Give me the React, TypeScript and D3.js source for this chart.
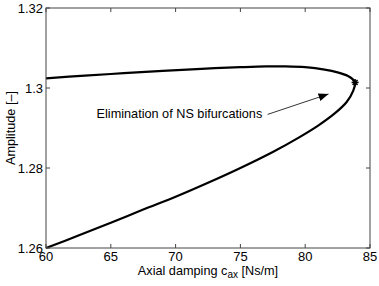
import React, { useEffect, useRef } from 'react';
import * as d3 from 'd3';

// upper branch, from left edge to the turning point
const upperC = [60, 63, 66, 69, 72, 75, 77, 78.5, 80, 81.5, 82.5, 83.3, 83.7, 83.85];
const upperA = [1.3024, 1.3031, 1.3037, 1.3043, 1.3048, 1.3052, 1.3054, 1.3054, 1.3052, 1.3046, 1.3039, 1.303, 1.3021, 1.3014];
// lower branch, from the turning point back to the left edge
const lowerC = [83.85, 83.7, 83.2, 82.3, 81, 79.5, 77.5, 75, 72.5, 70, 67.5, 65, 62.5, 60];
const lowerA = [1.3014, 1.2993, 1.2965, 1.2937, 1.2906, 1.2876, 1.284, 1.28, 1.2763, 1.2728, 1.2696, 1.2663, 1.2631, 1.26];

const xTicks = [60, 65, 70, 75, 80, 85];
const yTicks = [1.26, 1.28, 1.3, 1.32];
const yTickLabels = ['1.26', '1.28', '1.3', '1.32'];
const nsPoint = [83.85, 1.3014];

const W = 379;
const H = 286;
const margin = { left: 46, right: 9, top: 8, bottom: 38 };

const App = () => {
  const ref = useRef<SVGSVGElement>(null);

  useEffect(() => {
    const svg = d3.select(ref.current);
    svg.selectAll('*').remove();
    const font = 'Liberation Sans, Arial, Helvetica, sans-serif';

    const x = d3.scaleLinear().domain([60, 85]).range([margin.left, W - margin.right]);
    const y = d3.scaleLinear().domain([1.26, 1.32]).range([H - margin.bottom, margin.top]);
    const [x0, x1] = x.range();
    const [y0, y1] = y.range();

    const pts: [number, number][] = [];
    upperC.forEach((c, i) => pts.push([c, upperA[i]]));
    lowerC.slice(1).forEach((c, i) => pts.push([c, lowerA[i + 1]]));

    const line = d3
      .line<[number, number]>()
      .x(d => x(d[0]))
      .y(d => y(d[1]))
      .curve(d3.curveCatmullRom);

    // curve
    svg
      .append('path')
      .attr('d', line(pts))
      .attr('fill', 'none')
      .attr('stroke', '#000')
      .attr('stroke-width', 2.2);

    // box
    svg
      .append('rect')
      .attr('x', x0)
      .attr('y', y1)
      .attr('width', x1 - x0)
      .attr('height', y0 - y1)
      .attr('fill', 'none')
      .attr('stroke', '#444')
      .attr('stroke-width', 1);

    const tk = 4;
    xTicks.forEach(t => {
      svg.append('line').attr('x1', x(t)).attr('x2', x(t)).attr('y1', y0).attr('y2', y0 - tk).attr('stroke', '#444');
      svg.append('line').attr('x1', x(t)).attr('x2', x(t)).attr('y1', y1).attr('y2', y1 + tk).attr('stroke', '#444');
      svg
        .append('text')
        .attr('x', x(t))
        .attr('y', y0 + 13)
        .attr('text-anchor', 'middle')
        .attr('font-family', font)
        .attr('font-size', 13)
        .text(t);
    });
    yTicks.forEach((t, i) => {
      svg.append('line').attr('x1', x0).attr('x2', x0 + tk).attr('y1', y(t)).attr('y2', y(t)).attr('stroke', '#444');
      svg.append('line').attr('x1', x1).attr('x2', x1 - tk).attr('y1', y(t)).attr('y2', y(t)).attr('stroke', '#444');
      svg
        .append('text')
        .attr('x', x0 - 3)
        .attr('y', y(t) + 4.5)
        .attr('text-anchor', 'end')
        .attr('font-family', font)
        .attr('font-size', 13)
        .text(yTickLabels[i]);
    });

    // star marker at the turning point
    const sx = x(nsPoint[0]);
    const sy = y(nsPoint[1]);
    const r = 3.5;
    [0, 45, 90, 135].forEach(a => {
      const rad = (a * Math.PI) / 180;
      svg
        .append('line')
        .attr('x1', sx - r * Math.cos(rad))
        .attr('x2', sx + r * Math.cos(rad))
        .attr('y1', sy - r * Math.sin(rad))
        .attr('y2', sy + r * Math.sin(rad))
        .attr('stroke', '#000')
        .attr('stroke-width', 1.5);
    });

    // annotation
    svg
      .append('defs')
      .append('marker')
      .attr('id', 'arrowhead')
      .attr('viewBox', '0 0 10 10')
      .attr('refX', 10)
      .attr('refY', 5)
      .attr('markerWidth', 10)
      .attr('markerHeight', 8)
      .attr('markerUnits', 'userSpaceOnUse')
      .attr('orient', 'auto')
      .attr('preserveAspectRatio', 'none')
      .append('path')
      .attr('d', 'M0,0 L10,5 L0,10 Z')
      .attr('fill', '#000');

    svg
      .append('line')
      .attr('x1', x(77.1))
      .attr('y1', y(1.2934))
      .attr('x2', x(81.8))
      .attr('y2', y(1.2985))
      .attr('stroke', '#000')
      .attr('stroke-width', 0.8)
      .attr('marker-end', 'url(#arrowhead)');

    svg
      .append('text')
      .attr('x', x(63.9))
      .attr('y', y(1.2926))
      .attr('font-family', font)
      .attr('font-size', 12.7)
      .text('Elimination of NS bifurcations');

    // axis labels
    const xl = svg
      .append('text')
      .attr('x', (x0 + x1) / 2)
      .attr('y', H - 11)
      .attr('text-anchor', 'middle')
      .attr('font-family', font)
      .attr('font-size', 12.7);
    xl.append('tspan').text('Axial damping c');
    xl.append('tspan').attr('baseline-shift', '-30%').attr('font-size', 10).text('ax');
    xl.append('tspan').text(' [Ns/m]');

    svg
      .append('text')
      .attr('transform', `translate(15,${(y0 + y1) / 2}) rotate(-90)`)
      .attr('text-anchor', 'middle')
      .attr('font-family', font)
      .attr('font-size', 12.7)
      .text('Amplitude [\u2013]');
  }, []);

  return (
    <svg
      ref={ref}
      width={W}
      height={H}
      style={{ position: 'absolute', left: 0, top: 0, background: '#fff' }}
    />
  );
};

export default App;
